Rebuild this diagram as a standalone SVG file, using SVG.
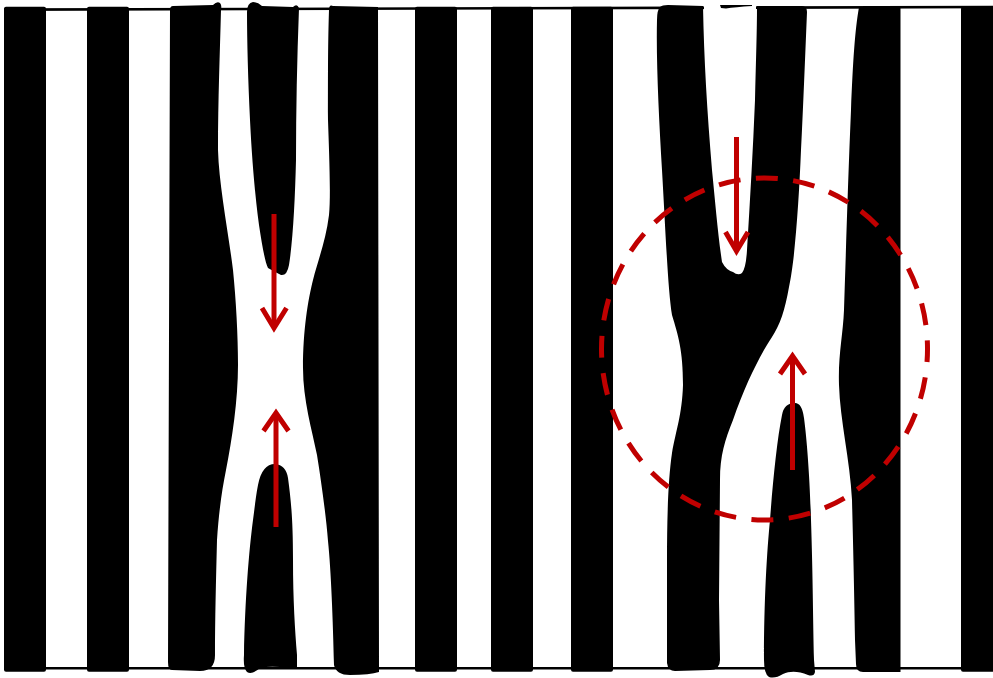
<svg xmlns="http://www.w3.org/2000/svg" width="993" height="678" viewBox="0 0 993 678">
  <style>
    .k{fill:#000}
    .line{stroke:#000;stroke-width:2.6;fill:none}
    .red{stroke:#C00000;stroke-width:5;fill:none;stroke-linecap:butt;stroke-linejoin:miter}
    .dash{stroke:#C00000;stroke-width:5;fill:none;stroke-dasharray:22 15.48;stroke-dashoffset:9}
  </style>
  <rect x="0" y="0" width="993" height="678" fill="#fff"/>
  <g id="border">
    <line class="line" x1="4" y1="9.6" x2="993" y2="7"/>
    <line class="line" x1="4" y1="668.2" x2="993" y2="668.2"/>
  </g>
  <g id="straight-bars" class="k">
    <rect x="4" y="6.7" width="42" height="665" rx="2"/>
    <rect x="87" y="6.7" width="42" height="665" rx="2"/>
    <rect x="415" y="6.7" width="42" height="665" rx="2"/>
    <rect x="491" y="6.7" width="42" height="665" rx="2"/>
    <rect x="571" y="6.7" width="42" height="665" rx="2"/>
    <rect x="961" y="6.7" width="40" height="665" rx="2"/>
  </g>
  <g id="left-constriction" class="k">
    <path d="M 173,6 L 213,5 Q 217,1 220,3 Q 222,5 221,10 C 220,50 218,100 218,150 C 219,185 228,230 233,270 C 236,300 238,335 238,365 C 238,400 232,440 226,470 C 222,490 219,510 217,540 C 216,580 215,620 215,655 Q 215,671 200,671 L 172,670 Q 168,670 168,662 L 170,10 Q 170,6 173,6 Z"/>
    <path d="M 247,12 Q 247,3 253,2 Q 258,2 262,6 L 293,7 Q 297,3 299,8 C 297,60 296,110 296,160 C 295,200 293,240 289,265 Q 287,276 281,275 Q 275,272 268,268 C 265,262 262,245 259,225 C 255,195 252,160 250,120 C 248,80 247,40 247,12 Z"/>
    <path d="M 258,485 Q 262,464 275,464 Q 286,465 288,478 C 291,500 293,520 293,560 C 293,600 295,630 297,655 L 297,668 Q 290,670 280,667 Q 268,666 260,668 Q 252,675 247,672 Q 243,668 244,655 C 245,600 249,550 253,520 C 255,505 256,495 258,485 Z"/>
    <path d="M 329,10 Q 329,4 333,6 L 378,7 L 379,672 Q 370,675 350,675 Q 336,675 334,665 C 333,620 331,570 328,541 C 326,515 321,480 317,455 C 312,430 303,400 303,368 C 303,330 308,300 313,280 C 318,260 326,240 329,215 C 331,195 329,150 328,120 C 328,70 328,40 329,10 Z"/>
  </g>
  <g id="right-junction">
    <rect x="704" y="5" width="52" height="8" fill="#fff"/>
    <path class="k" d="M 660,7 Q 662,5 668,5 L 703,6 C 704,60 707,110 712,170 C 715,200 718,235 722,262 Q 726,270 733,272 Q 738,276 742,273 Q 746,268 747,250 C 750,200 753,150 755,100 C 756,60 757,30 757,6 L 802,6 Q 807,6 807,12 C 805,60 803,110 801,150 C 799,200 795,260 789,287 C 785,310 780,325 772,337 C 760,355 745,385 733,420 C 725,440 720,455 720,480 L 719,600 L 720,660 Q 720,670 710,670 L 675,671 Q 668,671 667,663 L 667,560 C 667,520 668,480 672,453 C 676,430 682,415 683,385 C 683,350 678,335 672,315 C 668,290 666,240 662,170 C 659,120 656,60 657,20 Q 657,10 660,7 Z"/>
    <path class="k" d="M 720,5 L 752,5 L 752,6 Q 735,7 726,8.5 L 721,8 Z"/>
    <path class="k" d="M 782,415 Q 784,403 795,403 Q 802,403 804,418 C 807,440 810,480 811,520 C 813,580 813,620 814,660 L 815,672 Q 814,677 808,675 C 798,671 790,671 783,674 Q 775,679 769,677 Q 764,674 764,660 C 764,600 767,550 770,520 C 773,480 777,440 782,415 Z"/>
    <path class="k" d="M 859,7 L 900.5,7 L 900.5,672 L 863,672 Q 856,672 856,664 L 855,640 C 854,580 853,540 852,500 C 850,460 840,420 839,385 C 838,355 843,335 844,310 C 846,250 848,180 851,110 C 853,60 855,30 859,7 Z"/>
  </g>
  <g id="annotations">
    <line class="red" x1="274" y1="214" x2="274" y2="328"/>
    <polyline class="red" points="262,308 274,328 286.5,308"/>
    <line class="red" x1="276" y1="527" x2="276" y2="413"/>
    <polyline class="red" points="263.5,431 276,413 288.5,431"/>
    <line class="red" x1="736.5" y1="137" x2="736.5" y2="251"/>
    <polyline class="red" points="725.5,232 736.5,251 748,232"/>
    <line class="red" x1="792.5" y1="470" x2="792.5" y2="356"/>
    <polyline class="red" points="780,374 792.5,356 805,374"/>
    <ellipse class="dash" cx="764.5" cy="349" rx="163" ry="171"/>
  </g>
</svg>
